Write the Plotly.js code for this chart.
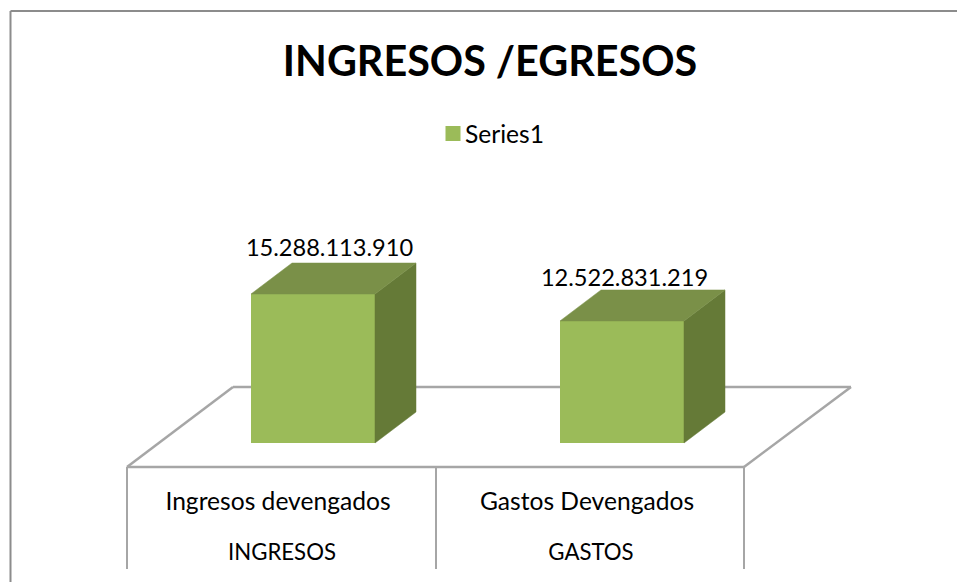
<!DOCTYPE html>
<html><head><meta charset="utf-8">
<script src="https://cdn.plot.ly/plotly-3.0.1.min.js"></script>
<style>html,body{margin:0;padding:0;background:#fff}#c{width:957px;height:582px}</style>
</head><body><div id="c"></div>
<script>
// ---- data ----
const categories = ['Ingresos devengados', 'Gastos Devengados'];
const groups = ['INGRESOS', 'GASTOS'];
const values = [15288113910, 12522831219];
const seriesName = 'Series1';
const chartTitle = 'INGRESOS /EGRESOS';

// ---- style & geometry (page pixels) ----
const W = 957, H = 582;
const font = 'Lato, "Open Sans", sans-serif';
const cFront = '#9BBB59', cTop = '#7A9048', cSide = '#657A37', cGrid = '#A6A6A6', cBorder = '#8C8C8C';
const pxPerValue = 149 / 15288113910;
const basePx = 443, firstBarPx = 313, stepPx = 309;
const barPx = 124, depthX = 41, depthY = 31;
// scales: category index -> x unit, value -> y unit
const dx = p => p / stepPx, dy = p => p / pxPerValue;
const xOf = p => (p - firstBarPx) / stepPx, yOf = p => (basePx - p) / pxPerValue;
const hw = dx(barPx) / 2;

const traces = [];
// bar top and side faces, derived from values
values.forEach((v, i) => {
  const L = i - hw, R = i + hw, DX = dx(depthX), DY = dy(depthY), B = 0;
  traces.push({type:'scatter', mode:'lines', fill:'toself', fillcolor:cSide, line:{color:cSide, width:0.5},
    x:[R, R+DX, R+DX, R, R], y:[B, B+DY, v+DY, v, B], hoverinfo:'skip', showlegend:false});
  traces.push({type:'scatter', mode:'lines', fill:'toself', fillcolor:cTop, line:{color:cTop, width:0.5},
    x:[L, L+DX, R+DX, R, L], y:[v, v+DY, v+DY, v, v], hoverinfo:'skip', showlegend:false});
});
// front faces
traces.push({type:'bar', name:seriesName, x:values.map((_, i) => i), y:values, width:dx(barPx),
  marker:{color:cFront, line:{width:0}}, showlegend:false});
// legend key (slightly larger swatch than the default)
traces.push({type:'bar', name:seriesName, x:[0], y:[null], marker:{color:cFront, line:{color:cFront, width:3}}, showlegend:true});

// value labels
const labelShiftX = [16.5, 2.5], labelShiftY = [44, 41];
traces.push({type:'scatter', mode:'text', x:values.map((_, i) => i + dx(labelShiftX[i])),
  y:values.map((v, i) => v + dy(labelShiftY[i])),
  text:values.map(v => String(v).replace(/\B(?=(\d{3})+$)/g, '.')),
  textposition:'middle center', textfont:{family:font, size:23.6, color:'#000'}, hoverinfo:'skip', showlegend:false});

// category labels
const cellCentre = i => xOf(278 + 309 * i);
traces.push({type:'scatter', mode:'text', x:categories.map((_, i) => cellCentre(i)),
  y:categories.map(() => yOf(504)), text:categories, textposition:'middle center',
  textfont:{family:font, size:24.6, color:'#000'}, hoverinfo:'skip', showlegend:false});
traces.push({type:'scatter', mode:'text', x:groups.map((_, i) => xOf(282 + 309 * i)),
  y:groups.map(() => yOf(554)), text:groups, textposition:'middle center',
  textfont:{family:font, size:22.2, color:'#000'}, hoverinfo:'skip', showlegend:false});

// floor and cell dividers sit below the traces
const seg = (x0, y0, x1, y1, w, c) => ({type:'line', layer:'below', xref:'x', yref:'y',
  x0:xOf(x0), y0:yOf(y0), x1:xOf(x1), y1:yOf(y1), line:{color:c, width:w}});
const shapes = [
  seg(127, 467, 233, 387, 2.5, cGrid), seg(233, 387, 851, 387, 2.5, cGrid),
  seg(851, 387, 744, 467, 2.5, cGrid), seg(744, 467, 127, 467, 2.5, cGrid),
  seg(127, 467, 127, 569, 2, cGrid), seg(436, 467, 436, 569, 2, cGrid), seg(744, 467, 744, 569, 2, cGrid),
  seg(10.5, 582, 10.5, 11, 2, cBorder), seg(10.5, 11, 957, 11, 2, cBorder)
];

const layout = {
  width:W, height:H, margin:{l:0, r:0, t:0, b:0}, paper_bgcolor:'#fff', plot_bgcolor:'rgba(0,0,0,0)',
  title:{text:'<b>'+chartTitle+'</b>', x:490/W, xanchor:'center', y:1-62/H, yanchor:'middle',
    font:{family:font, size:41.3, color:'#000'}},
  xaxis:{range:[xOf(0), xOf(W)], visible:false, fixedrange:true},
  yaxis:{range:[yOf(H), yOf(0)], visible:false, fixedrange:true},
  legend:{x:433/W, y:1-133.5/H, xanchor:'left', yanchor:'middle', orientation:'h', bgcolor:'rgba(0,0,0,0)',
    font:{family:font, size:24.6, color:'#000'}, itemwidth:30},
  showlegend:true, barmode:'overlay', shapes:shapes
};
Plotly.newPlot('c', traces, layout, {displayModeBar:false, staticPlot:true}).then(() => {
  const t = document.querySelector('#c .legendtext');
  if (t) t.setAttribute('x', parseFloat(t.getAttribute('x')) - 8);
});
</script></body></html>
